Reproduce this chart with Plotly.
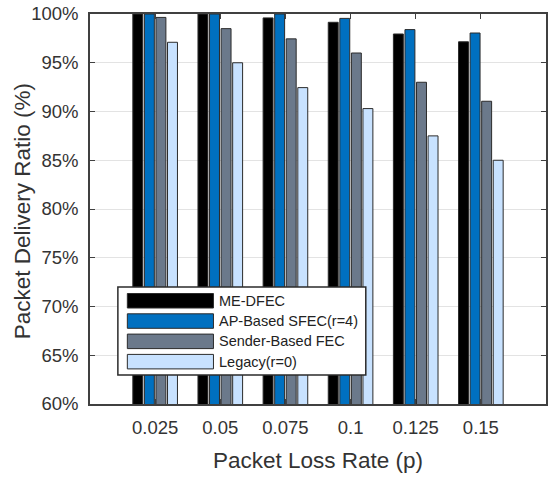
import plotly.graph_objects as go

# Packet loss rates (x categories)
loss_rates = ["0.025", "0.05", "0.075", "0.1", "0.125", "0.15"]

# Packet delivery ratio (%) per scheme
me_dfec = [100.0, 100.0, 99.6, 99.15, 97.95, 97.15]
ap_sfec = [100.0, 100.0, 100.0, 99.55, 98.4, 98.05]
sender_fec = [99.65, 98.5, 97.45, 96.0, 93.0, 91.05]
legacy = [97.1, 95.0, 92.45, 90.3, 87.5, 85.0]

series_names = ["ME-DFEC", "AP-Based SFEC(r=4)", "Sender-Based FEC", "Legacy(r=0)"]
series_values = [me_dfec, ap_sfec, sender_fec, legacy]
series_colors = ["#000000", "#0070C0", "#6B798B", "#C8E2FF"]

y_ticks = [60, 65, 70, 75, 80, 85, 90, 95, 100]

W, H = 548, 477
ML, MR, MT, MB = 90, 0, 14, 73
PW, PH = W - ML - MR, H - MT - MB

FONT = "Liberation Sans, Arial, sans-serif"
TXT = "#333333"

fig = go.Figure()
xs = list(range(len(loss_rates)))
for name, vals, col in zip(series_names, series_values, series_colors):
    fig.add_trace(go.Bar(
        x=xs, y=vals, name=name, marker_color=col,
        marker_line_color="#2b2b2b", marker_line_width=1,
        showlegend=False,
    ))

# Hand-drawn legend box (wide swatches) in pixel-derived paper coordinates
def px_x(px):
    return (px - ML) / PW

def px_y(py):
    return (H - MB - py) / PH

shapes = [dict(type="rect", xref="paper", yref="paper",
               x0=px_x(118), x1=px_x(367), y0=px_y(375), y1=px_y(287),
               fillcolor="white", line=dict(color="#2b2b2b", width=1.5),
               layer="above")]
annotations = []
for i, (name, col) in enumerate(zip(series_names, series_colors)):
    top = 293.5 + i * 20.3
    shapes.append(dict(type="rect", xref="paper", yref="paper",
                       x0=px_x(127.5), x1=px_x(214), y0=px_y(top + 14.5), y1=px_y(top),
                       fillcolor=col, line=dict(color="#2b2b2b", width=1),
                       layer="above"))
    annotations.append(dict(xref="paper", yref="paper", x=px_x(218), y=px_y(top + 7.3),
                            text=name, showarrow=False, xanchor="left", yanchor="middle",
                            font=dict(family=FONT, size=14.5, color="#222222")))

# Axis titles placed explicitly
annotations.append(dict(xref="paper", yref="paper", x=px_x(319), y=px_y(461),
                        text="Packet Loss Rate (p)", showarrow=False,
                        xanchor="center", yanchor="middle",
                        font=dict(family=FONT, size=22.5, color=TXT)))
annotations.append(dict(xref="paper", yref="paper", x=px_x(22), y=px_y(211),
                        text="Packet Delivery Ratio (%)", showarrow=False, textangle=-90,
                        xanchor="center", yanchor="middle",
                        font=dict(family=FONT, size=22.5, color=TXT)))

fig.update_layout(
    width=W, height=H,
    margin=dict(l=ML, r=MR, t=MT, b=MB, pad=0),
    paper_bgcolor="white", plot_bgcolor="white",
    barmode="group", bargap=0.29, bargroupgap=0.14,
    font=dict(family=FONT, color=TXT),
    shapes=shapes, annotations=annotations,
    xaxis=dict(
        tickmode="array", tickvals=xs, ticktext=loss_rates,
        range=[-1, 6], showgrid=False,
        showline=True, linecolor="#404040", linewidth=1.5, mirror="ticks",
        ticks="inside", ticklen=5, tickcolor="#404040",
        tickfont=dict(family=FONT, size=18.5, color=TXT),
        ticklabelstandoff=6,
        zeroline=False,
    ),
    yaxis=dict(
        range=[60, 100], tickmode="array", tickvals=y_ticks,
        ticktext=[f"{v}%" for v in y_ticks],
        showgrid=True, gridcolor="#e3e3e3", gridwidth=1,
        showline=True, linecolor="#404040", linewidth=1.5, mirror="ticks",
        ticks="inside", ticklen=5, tickcolor="#404040",
        tickfont=dict(family=FONT, size=18.5, color=TXT),
        ticklabelstandoff=6,
        zeroline=False,
    ),
)

fig.write_html("out.html")
